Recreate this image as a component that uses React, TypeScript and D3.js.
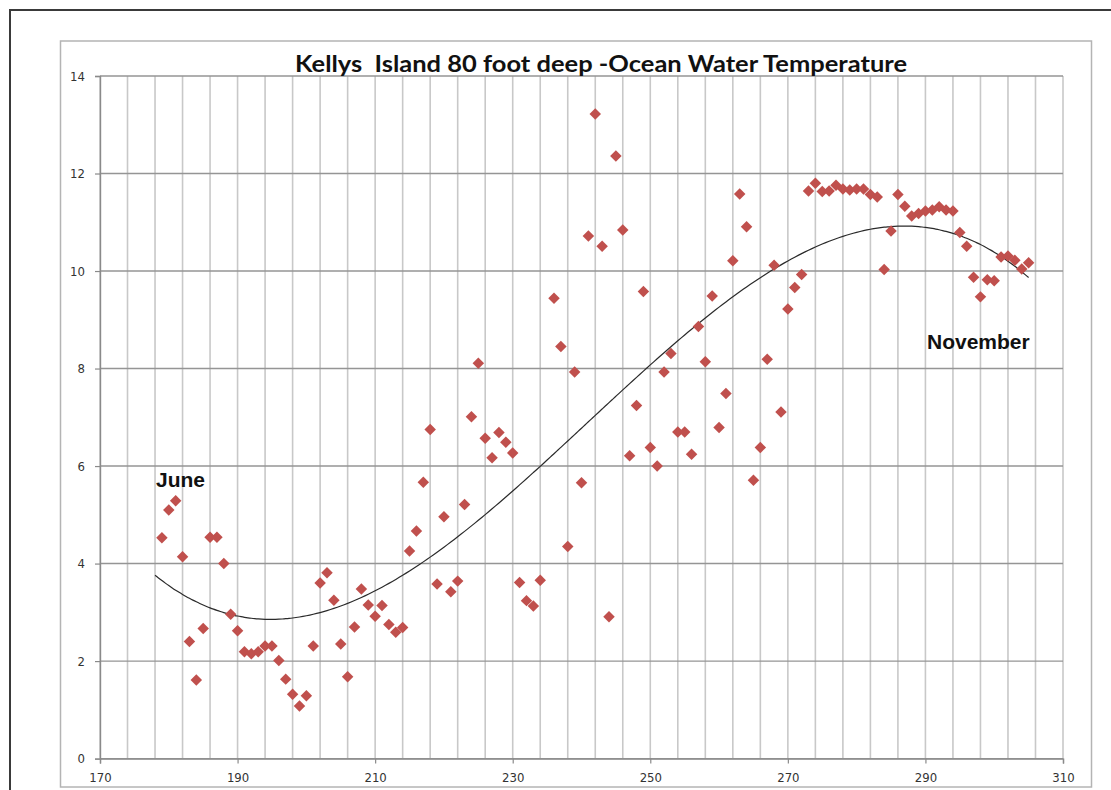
import React, { useEffect, useRef } from "react";
import * as d3 from "d3";

// day of year
const days = [
  179, 180, 181, 182, 183, 184, 185, 186, 187, 188, 189, 190, 191, 192, 193, 194, 195, 196, 197, 198,
  199, 200, 201, 202, 203, 204, 205, 206, 207, 208, 209, 210, 211, 212, 213, 214, 215, 216, 217, 218,
  219, 220, 221, 222, 223, 224, 225, 226, 227, 228, 229, 230, 231, 232, 233, 234, 236, 237, 238, 239,
  240, 241, 242, 243, 244, 245, 246, 247, 248, 249, 250, 251, 252, 253, 254, 255, 256, 257, 258, 259,
  260, 261, 262, 263, 264, 265, 266, 267, 268, 269, 270, 271, 272, 273, 274, 275, 276, 277, 278, 279,
  280, 281, 282, 283, 284, 285, 286, 287, 288, 289, 290, 291, 292, 293, 294, 295, 296, 297, 298, 299,
  300, 301, 302, 303, 304, 305,
];

// water temperature at 80 ft
const temps = [
  4.53, 5.1, 5.29, 4.14, 2.4, 1.61, 2.67, 4.54, 4.54, 4.0, 2.96, 2.62, 2.19, 2.15, 2.19, 2.31, 2.31, 2.01, 1.63, 1.32,
  1.08, 1.29, 2.31, 3.6, 3.81, 3.25, 2.35, 1.68, 2.7, 3.48, 3.15, 2.92, 3.14, 2.75, 2.59, 2.69, 4.26, 4.67, 5.67, 6.75,
  3.58, 4.96, 3.42, 3.64, 5.21, 7.01, 8.11, 6.57, 6.17, 6.69, 6.49, 6.27, 3.61, 3.24, 3.13, 3.66, 9.44, 8.45, 4.35, 7.93,
  5.66, 10.72, 13.22, 10.51, 2.91, 12.36, 10.84, 6.21, 7.24, 9.58, 6.38, 6.0, 7.93, 8.31, 6.7, 6.7, 6.24, 8.86, 8.14, 9.49,
  6.79, 7.49, 10.21, 11.58, 10.91, 5.71, 6.38, 8.19, 10.12, 7.11, 9.22, 9.66, 9.93, 11.64, 11.8, 11.63, 11.64, 11.76, 11.68, 11.66,
  11.68, 11.68, 11.57, 11.52, 10.03, 10.82, 11.57, 11.33, 11.13, 11.18, 11.23, 11.25, 11.32, 11.25, 11.23, 10.79, 10.51, 9.87, 9.47, 9.82,
  9.8, 10.29, 10.31, 10.22, 10.04, 10.17,
];

const xTicks = [170, 190, 210, 230, 250, 270, 290, 310];
const yTicks = [0, 2, 4, 6, 8, 10, 12, 14];
const xGrid = d3.range(170, 311, 4);

// trendline drawn a day before the first reading (backward forecast)
const trendStart = 178;

const title = "Kellys  Island 80 foot deep -Ocean Water Temperature";

// least squares cubic trendline (like Excel's polynomial order 3)
function cubicFit(xs: number[], ys: number[]) {
  const mx = d3.mean(xs) as number;
  const sx = (d3.max(xs) as number) - mx;
  const us = xs.map(x => (x - mx) / sx);
  const n = 4;
  const A: number[][] = [];
  for (let i = 0; i < n; i++) {
    A.push(new Array(n + 1).fill(0));
  }
  us.forEach((u, k) => {
    for (let i = 0; i < n; i++) {
      for (let j = 0; j < n; j++) A[i][j] += Math.pow(u, i + j);
      A[i][n] += Math.pow(u, i) * ys[k];
    }
  });
  for (let c = 0; c < n; c++) {
    let p = c;
    for (let r = c + 1; r < n; r++) if (Math.abs(A[r][c]) > Math.abs(A[p][c])) p = r;
    [A[c], A[p]] = [A[p], A[c]];
    for (let r = 0; r < n; r++) {
      if (r === c) continue;
      const f = A[r][c] / A[c][c];
      for (let k = c; k <= n; k++) A[r][k] -= f * A[c][k];
    }
  }
  const coef = A.map((row, i) => row[n] / row[i]);
  return (x: number) => {
    const u = (x - mx) / sx;
    return coef[0] + coef[1] * u + coef[2] * u * u + coef[3] * u * u * u;
  };
}

export default function App() {
  const ref = useRef<SVGSVGElement>(null);

  useEffect(() => {
    const width = 1111;
    const height = 790;
    const left = 100, right = 1063, top = 76, bottom = 758.6;

    const svg = d3.select(ref.current);
    svg.selectAll("*").remove();

    svg.append("rect").attr("width", width).attr("height", height).attr("fill", "#fff");

    // outer frame
    svg.append("path")
      .attr("d", `M10,${height} V10 H${width}`)
      .attr("fill", "none")
      .attr("stroke", "#3a3a3a")
      .attr("stroke-width", 2);

    // chart area border
    svg.append("rect")
      .attr("x", 60.5).attr("y", 41)
      .attr("width", 1031).attr("height", 746)
      .attr("fill", "none")
      .attr("stroke", "#b4b4b4")
      .attr("stroke-width", 1.5);

    const xScale = d3.scaleLinear().domain([170, 310]).range([left, right]);
    const yScale = d3.scaleLinear().domain([0, 14]).range([bottom, top]);

    // vertical gridlines
    svg.append("g")
      .selectAll("line")
      .data(xGrid)
      .join("line")
      .attr("x1", d => xScale(d)).attr("x2", d => xScale(d))
      .attr("y1", yScale(14)).attr("y2", yScale(0))
      .attr("stroke", "#c8c8c8")
      .attr("stroke-width", 1.6);

    // horizontal gridlines
    svg.append("g")
      .selectAll("line")
      .data(yTicks)
      .join("line")
      .attr("x1", xScale(170)).attr("x2", xScale(310))
      .attr("y1", d => yScale(d)).attr("y2", d => yScale(d))
      .attr("stroke", "#959595")
      .attr("stroke-width", 1.4);

    const xAxis = d3.axisBottom(xScale).tickValues(xTicks).tickSize(5).tickPadding(9).tickFormat(d3.format("d"));
    const yAxis = d3.axisLeft(yScale).tickValues(yTicks).tickSize(5).tickPadding(10).tickFormat(d3.format("d"));

    const gx = svg.append("g").attr("transform", `translate(0, ${bottom})`).call(xAxis);
    const gy = svg.append("g").attr("transform", `translate(${left}, 0)`).call(yAxis);

    [gx, gy].forEach(g => {
      g.select(".domain").attr("stroke", "#8a8a8a").attr("stroke-width", 1.4);
      g.selectAll(".tick line").attr("stroke", "#8a8a8a").attr("stroke-width", 1.2);
      g.selectAll(".tick text")
        .attr("fill", "#333")
        .attr("font-family", "'DejaVu Sans Condensed', 'DejaVu Sans', sans-serif")
        .style("font-stretch", "condensed")
        .attr("font-size", 13);
    });

    // trendline
    const trend = cubicFit(days, temps);
    const trendDays = d3.range(trendStart, (d3.max(days) as number) + 0.5, 0.5);
    const line = d3.line<number>()
      .x(d => xScale(d))
      .y(d => yScale(trend(d)))
      .curve(d3.curveMonotoneX);

    svg.append("path")
      .datum(trendDays)
      .attr("d", line)
      .attr("fill", "none")
      .attr("stroke", "#2a2a2a")
      .attr("stroke-width", 1.2);

    // data points
    const diamond = d3.symbol().type(d3.symbolSquare).size(66);
    svg.append("g")
      .selectAll("path")
      .data(days.map((d, i) => [d, temps[i]]))
      .join("path")
      .attr("d", diamond)
      .attr("transform", d => `translate(${xScale(d[0])}, ${yScale(d[1])}) rotate(45)`)
      .attr("fill", "#c0504d");

    // title
    svg.append("text")
      .attr("x", 601)
      .attr("y", 72)
      .attr("text-anchor", "middle")
      .attr("font-family", "Lato, 'Open Sans', sans-serif")
      .attr("font-weight", "bold")
      .attr("font-size", 23)
      .attr("textLength", 612)
      .attr("lengthAdjust", "spacingAndGlyphs")
      .attr("fill", "#111")
      .style("white-space", "pre")
      .text(title);

    // month annotations
    svg.append("text")
      .attr("x", 156)
      .attr("y", 487)
      .attr("font-family", "'Liberation Sans', Arial, sans-serif")
      .attr("font-weight", "bold")
      .attr("font-size", 21)
      .attr("fill", "#111")
      .text("June");

    svg.append("text")
      .attr("x", 927)
      .attr("y", 349)
      .attr("font-family", "'Liberation Sans', Arial, sans-serif")
      .attr("font-weight", "bold")
      .attr("font-size", 21)
      .attr("fill", "#111")
      .text("November");
  }, []);

  return (
    <svg
      ref={ref}
      width={1111}
      height={790}
      style={{ position: "absolute", left: 0, top: 0, display: "block" }}
    />
  );
}
